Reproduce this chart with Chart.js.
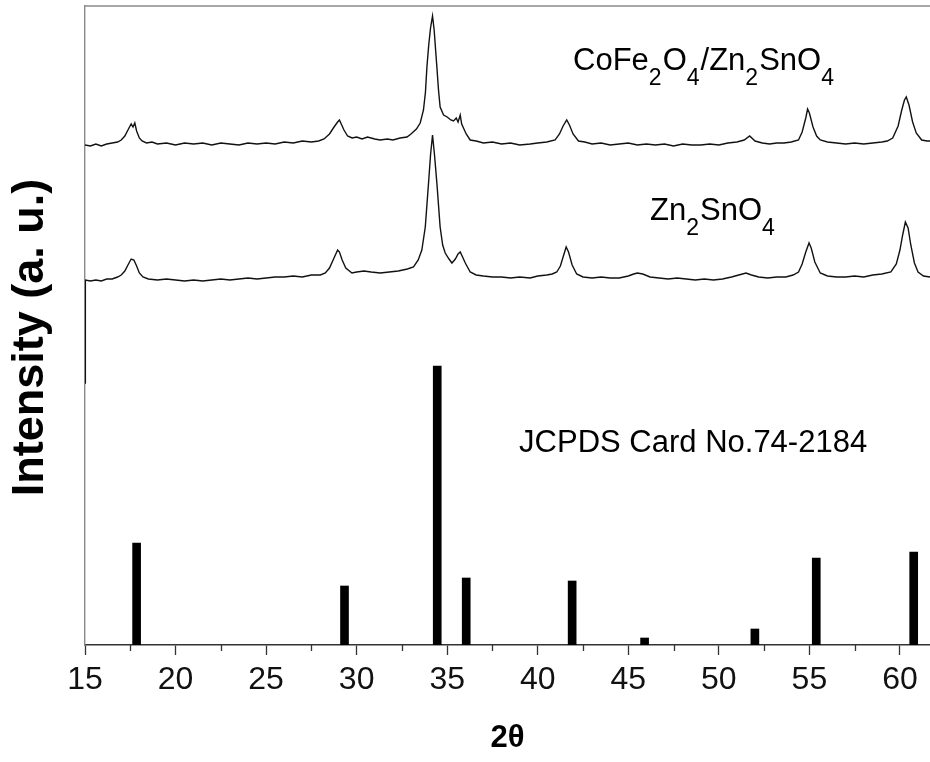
<!DOCTYPE html>
<html>
<head>
<meta charset="utf-8">
<script src="https://cdn.jsdelivr.net/npm/chart.js@4.4.1/dist/chart.umd.min.js"></script>
<style>
  html, body { margin: 0; padding: 0; background: #fff; }
  #wrap { width: 930px; height: 762px; }
</style>
</head>
<body>
<div id="wrap"><canvas id="xrd" width="930" height="762"></canvas></div>
<script>
// ---- XRD patterns: 2θ (deg) and intensity (a.u., traces stacked with offsets) ----
const compositeAngles = [
  15.0, 15.3, 15.6, 15.9, 16.2, 16.5, 16.8, 17.0, 17.2, 17.4, 17.55, 17.65, 17.75, 17.85, 18.0, 18.15,
  18.4, 18.7, 19.0, 19.5, 20.0, 20.5, 21.0, 21.5, 22.0, 22.5, 23.0, 23.5, 24.0, 24.5, 25.0, 25.5,
  26.0, 26.5, 27.0, 27.5, 27.9, 28.2, 28.5, 28.75, 28.95, 29.05, 29.15, 29.3, 29.5, 29.75, 30.0, 30.3,
  30.6, 31.0, 31.3, 31.7, 32.0, 32.4, 32.78, 33.0, 33.3, 33.51, 33.69, 33.8, 33.88, 33.98, 34.08, 34.19,
  34.28, 34.36, 34.43, 34.52, 34.61, 34.8, 35.0, 35.2, 35.35, 35.5, 35.6, 35.72, 35.8, 35.9, 36.05, 36.27,
  36.6, 37.0, 37.5, 38.0, 38.5, 39.0, 39.58, 40.0, 40.5, 40.96, 41.2, 41.4, 41.6, 41.75, 41.95, 42.25,
  42.6, 43.0, 43.5, 44.0, 44.5, 45.0, 45.5, 46.0, 46.5, 47.0, 47.5, 48.0, 48.5, 49.0, 49.5, 50.0,
  50.5, 51.0, 51.4, 51.7, 52.0, 52.4, 52.8, 53.2, 53.6, 54.0, 54.4, 54.6, 54.8, 54.9, 55.0, 55.2,
  55.4, 55.6, 56.0, 56.5, 57.0, 57.5, 58.0, 58.5, 59.0, 59.3, 59.6, 59.9, 60.1, 60.25, 60.35, 60.5,
  60.7, 60.9, 61.2, 61.5, 61.66
];
const compositeCounts = [
  500, 499, 501, 499, 501, 502, 503, 505, 509, 516, 521, 518, 522, 514, 507, 504,
  502, 503, 501, 502, 500, 502, 501, 502, 500, 502, 501, 500, 502, 501, 502, 501,
  503, 502, 504, 503, 504, 506, 511, 518, 523, 525, 521, 515, 509, 507, 508, 506,
  508, 506, 505, 506, 505, 507, 508, 511, 516, 522, 535, 553, 578, 600, 617, 629,
  615, 595, 578, 555, 538, 530, 528, 525, 524, 527, 523, 530, 521, 517, 511, 505,
  504, 502, 503, 501, 502, 500, 501, 502, 503, 505, 511, 519, 525, 520, 511, 504,
  503, 501, 502, 500, 501, 502, 500, 501, 500, 501, 499, 501, 500, 500, 501, 500,
  502, 503, 505, 509, 504, 502, 501, 502, 502, 503, 505, 513, 527, 536, 532, 518,
  509, 505, 503, 502, 501, 502, 501, 502, 503, 504, 507, 519, 535, 545, 548, 540,
  523, 512, 505, 504, 504
];

const stannateAngles = [
  15.0, 15.02, 15.3, 15.6, 15.9, 16.2, 16.5, 16.8, 17.0, 17.2, 17.4, 17.55, 17.7, 17.85, 18.0, 18.2,
  18.5, 19.0, 19.5, 20.0, 20.5, 21.0, 21.5, 22.0, 22.5, 23.0, 23.5, 24.0, 24.5, 25.0, 25.5, 26.0,
  26.5, 27.0, 27.5, 28.0, 28.27, 28.5, 28.75, 28.95, 29.05, 29.2, 29.4, 29.74, 30.0, 30.4, 30.8, 31.3,
  31.8, 32.3, 32.8, 33.14, 33.4, 33.6, 33.79, 33.97, 34.08, 34.19, 34.3, 34.43, 34.61, 34.75, 34.89, 35.1,
  35.26, 35.45, 35.6, 35.72, 35.85, 36.0, 36.27, 36.6, 37.0, 37.5, 38.0, 38.5, 39.0, 39.58, 40.0, 40.5,
  40.8, 41.05, 41.25, 41.45, 41.57, 41.7, 41.9, 42.15, 42.5, 43.0, 43.5, 44.0, 44.5, 45.0, 45.3, 45.5,
  45.8, 46.2, 46.7, 47.2, 47.7, 48.2, 48.7, 49.2, 49.7, 50.2, 50.7, 51.1, 51.5, 51.8, 52.2, 52.7,
  53.2, 53.7, 54.1, 54.4, 54.6, 54.8, 54.98, 55.1, 55.3, 55.6, 56.0, 56.5, 57.0, 57.5, 58.0, 58.5,
  59.0, 59.5, 59.8, 60.0, 60.15, 60.3, 60.45, 60.6, 60.8, 61.0, 61.3, 61.66
];
const stannateCounts = [
  262, 365, 364, 365, 364, 366, 366, 368, 370, 374, 381, 386, 385, 379, 372, 368,
  366, 365, 366, 365, 364, 365, 364, 365, 366, 365, 366, 367, 366, 367, 368, 368,
  369, 368, 370, 370, 372, 377, 387, 395, 393, 385, 377, 372, 373, 374, 373, 372,
  373, 374, 376, 378, 385, 395, 418, 462, 490, 510, 490, 462, 418, 400, 392, 386,
  382, 386, 391, 393, 388, 382, 373, 370, 369, 368, 368, 367, 368, 367, 369, 370,
  371, 373, 379, 391, 398, 393, 380, 371, 368, 367, 368, 367, 367, 369, 371, 372,
  371, 368, 367, 366, 367, 366, 365, 366, 365, 366, 368, 370, 372, 370, 368, 367,
  368, 368, 370, 373, 381, 393, 402, 397, 383, 372, 369, 368, 368, 369, 368, 370,
  371, 373, 381, 395, 410, 423, 417, 400, 382, 373, 369, 368
];

// ---- Reference card (JCPDS No. 74-2184) stick pattern ----
const cardAngles    = [17.85, 29.33, 34.45, 36.05, 41.9, 45.9, 51.99, 55.38, 60.76];
const cardIntensity = [102, 59, 279, 67, 64, 7, 16, 87, 93];

// ---- Axis ticks ----
const majorTicks = [15, 20, 25, 30, 35, 40, 45, 50, 55, 60];
const minorTicks = [17.5, 22.5, 27.5, 32.5, 37.5, 42.5, 47.5, 52.5, 57.5];

// ---- Trace labels: text runs, second entry marks a subscript ----
const compositeLabel = [['CoFe', 0], ['2', 1], ['O', 0], ['4', 1], ['/Zn', 0], ['2', 1], ['SnO', 0], ['4', 1]];
const stannateLabel  = [['Zn', 0], ['2', 1], ['SnO', 0], ['4', 1]];
const cardLabel      = [['JCPDS Card No.74-2184', 0]];

const FONT = "'Liberation Sans', Arial, sans-serif";

const toPoints = (xs, ys) => xs.map((x, i) => ({ x: x, y: ys[i] }));

// Draws each label run by run so subscripts sit below the baseline
function drawRuns(ctx, runs, x, y, size) {
  let cx = x;
  ctx.textBaseline = 'alphabetic';
  ctx.textAlign = 'left';
  ctx.fillStyle = '#000';
  for (const [txt, sub] of runs) {
    const fs = sub ? Math.round(size * 0.74) : size;
    ctx.font = fs + 'px ' + FONT;
    ctx.fillText(txt, cx, sub ? y + 15 : y);
    cx += ctx.measureText(txt).width + (sub ? 1 : 0);
  }
}

const decorations = {
  id: 'decorations',
  beforeDraw(chart) {
    const { ctx, width, height } = chart;
    ctx.save();
    ctx.fillStyle = '#fff';
    ctx.fillRect(0, 0, width, height);
    ctx.restore();
  },
  afterDraw(chart) {
    const { ctx, chartArea, scales } = chart;
    const xs = scales.x, ys = scales.y;
    ctx.save();
    // frame line along the top of the plot
    ctx.strokeStyle = '#8a8a8a';
    ctx.lineWidth = 1.4;
    ctx.beginPath();
    ctx.moveTo(chartArea.left, chartArea.top);
    ctx.lineTo(chartArea.right, chartArea.top);
    ctx.stroke();
    // minor ticks on the 2θ axis
    ctx.strokeStyle = '#333';
    ctx.lineWidth = 1.3;
    ctx.beginPath();
    for (const v of minorTicks) {
      const px = Math.round(xs.getPixelForValue(v)) + 0.5;
      ctx.moveTo(px, chartArea.bottom);
      ctx.lineTo(px, chartArea.bottom + 6);
    }
    ctx.stroke();
    // trace labels
    drawRuns(ctx, compositeLabel, xs.getPixelForValue(41.95), ys.getPixelForValue(575), 31);
    drawRuns(ctx, stannateLabel, xs.getPixelForValue(46.2), ys.getPixelForValue(425), 31);
    drawRuns(ctx, cardLabel, xs.getPixelForValue(38.97), ys.getPixelForValue(193), 31);
    // intensity axis title
    ctx.translate(31, (chartArea.top + chartArea.bottom) / 2 + 12);
    ctx.rotate(-Math.PI / 2);
    ctx.font = 'bold 45px ' + FONT;
    ctx.textAlign = 'center';
    ctx.textBaseline = 'middle';
    ctx.fillStyle = '#000';
    ctx.fillText('Intensity (a. u.)', 0, 0);
    ctx.restore();
  }
};

new Chart(document.getElementById('xrd'), {
  type: 'line',
  data: {
    datasets: [
      {
        type: 'line',
        label: 'CoFe2O4/Zn2SnO4',
        data: toPoints(compositeAngles, compositeCounts),
        borderColor: '#111',
        borderWidth: 1.4,
        pointRadius: 0,
        tension: 0,
        fill: false
      },
      {
        type: 'line',
        label: 'Zn2SnO4',
        data: toPoints(stannateAngles, stannateCounts),
        borderColor: '#111',
        borderWidth: 1.4,
        pointRadius: 0,
        tension: 0,
        fill: false
      },
      {
        type: 'bar',
        label: 'JCPDS 74-2184',
        data: toPoints(cardAngles, cardIntensity),
        backgroundColor: '#000',
        borderWidth: 0,
        barThickness: 8
      }
    ]
  },
  options: {
    responsive: false,
    animation: false,
    devicePixelRatio: 1,
    layout: { padding: { top: 6, right: 0, left: 0, bottom: 0 } },
    plugins: { legend: { display: false }, tooltip: { enabled: false } },
    scales: {
      x: {
        type: 'linear',
        min: 15,
        max: 61.66,
        offset: false,
        afterBuildTicks: (scale) => { scale.ticks = majorTicks.map(v => ({ value: v })); },
        afterFit: (scale) => { scale.height = 117; },
        grid: {
          display: true,
          drawOnChartArea: false,
          drawTicks: true,
          tickLength: 10,
          tickColor: '#333',
          tickWidth: 1.3,
          offset: false
        },
        border: { display: true, color: '#333', width: 1.5 },
        ticks: {
          color: '#111',
          font: { family: FONT, size: 32 },
          padding: 6,
          maxRotation: 0,
          autoSkip: false
        },
        title: {
          display: true,
          text: '2θ',
          color: '#000',
          font: { family: FONT, size: 31, weight: 'bold' },
          padding: { top: 0, bottom: 5 }
        }
      },
      y: {
        type: 'linear',
        min: 0,
        max: 639,
        afterFit: (scale) => { scale.width = 85; },
        grid: { display: false },
        border: { display: true, color: '#8a8a8a', width: 1.4 },
        ticks: { display: false }
      }
    }
  },
  plugins: [decorations]
});
</script>
</body>
</html>
